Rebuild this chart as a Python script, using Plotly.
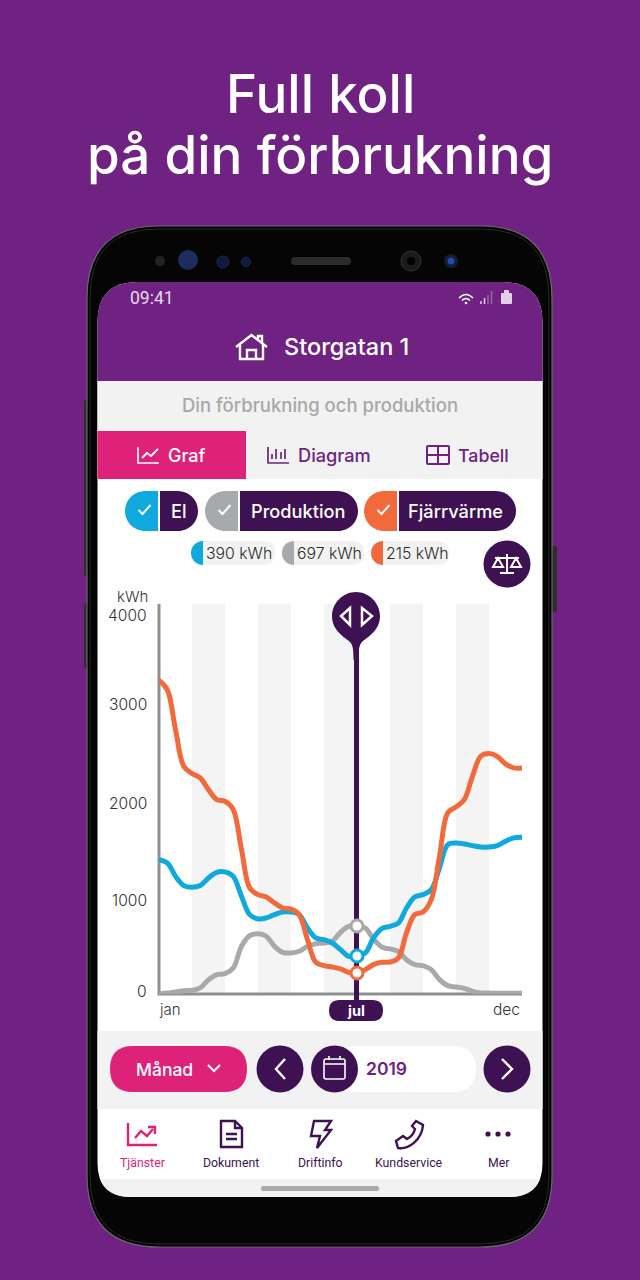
import plotly.graph_objects as go

# ---------- chart data (kWh, quarter-month steps) ----------
positions = [i / 4 for i in range(45)]
fjarrvarme = [3215, 3122, 2712, 2336, 2261, 2216, 2096, 1994, 1977, 1891, 1481, 1088, 1019, 995, 934, 882, 872, 814, 557, 325, 291, 277, 257, 222, 215, 250, 301, 325, 328, 369, 626, 814, 841, 968, 1412, 1857, 1919, 1994, 2233, 2438, 2466, 2438, 2360, 2319, 2319]
el = [1378, 1344, 1207, 1112, 1094, 1112, 1190, 1248, 1252, 1207, 1002, 814, 770, 780, 814, 841, 841, 814, 677, 575, 557, 523, 455, 386, 390, 421, 575, 670, 694, 728, 882, 995, 1019, 1070, 1293, 1532, 1549, 1539, 1522, 1508, 1508, 1522, 1566, 1601, 1607]
produktion = [3, 10, 21, 34, 38, 62, 147, 198, 209, 267, 489, 598, 619, 592, 489, 427, 421, 438, 489, 516, 523, 540, 633, 694, 697, 677, 564, 482, 462, 438, 352, 301, 291, 250, 147, 86, 72, 58, 27, 10, 10, 7, 7, 7, 7]
y_ticks = [0, 1000, 2000, 3000, 4000]
y_shift = [3, -4, -4, -3, -11]
band_starts = [1, 3, 5, 7, 9]
selected = 6
selected_values = [390, 697, 215]

PURPLE = "#6F2281"; DARK = "#3D1152"; PINK = "#DE2279"; BLUE = "#0FA9DE"
ORANGE = "#F26A3B"; GRAY = "#A8A9AB"; LIGHT = "#F2F2F2"; TXT = "#222222"; AXIS = "#8F8F8F"
FONT = "Inter"

# chart frame on the page
CX0, CX1, CY0, CY1 = 159, 522, 994, 604
XMAX, YMAX = 11, 4000
def sx(v): return CX0 + (CX1 - CX0) * v / XMAX
def sy(v): return CY0 + (CY1 - CY0) * v / YMAX

shapes, notes = [], []

def P(d, fill="rgba(0,0,0,0)", lc=None, lw=0):
    shapes.append(dict(type="path", path=d, xref="x", yref="y", layer="below", fillcolor=fill,
                       line=dict(color=lc or "rgba(0,0,0,0)", width=lw)))

def rr(x0, y0, x1, y1, r=0, r2=None):
    r2 = r if r2 is None else r2
    return (f"M{x0+r},{y0} L{x1-r},{y0} Q{x1},{y0} {x1},{y0+r} L{x1},{y1-r2} Q{x1},{y1} {x1-r2},{y1} "
            f"L{x0+r2},{y1} Q{x0},{y1} {x0},{y1-r2} L{x0},{y0+r} Q{x0},{y0} {x0+r},{y0} Z")

def lpill(x0, y0, x1, y1):
    r = (y1 - y0) / 2
    return f"M{x1},{y0} L{x0+r},{y0} C{x0+r*.45},{y0} {x0},{y0+r*.45} {x0},{y0+r} C{x0},{y1-r*.45} {x0+r*.45},{y1} {x0+r},{y1} L{x1},{y1} Z"

def rpill(x0, y0, x1, y1):
    r = (y1 - y0) / 2
    return f"M{x0},{y0} L{x1-r},{y0} C{x1-r*.45},{y0} {x1},{y0+r*.45} {x1},{y0+r} C{x1},{y1-r*.45} {x1-r*.45},{y1} {x1-r},{y1} L{x0},{y1} Z"

def C(cx, cy, r, fill, lc=None, lw=0):
    shapes.append(dict(type="circle", xref="x", yref="y", layer="below", x0=cx-r, x1=cx+r, y0=cy-r, y1=cy+r,
                       fillcolor=fill, line=dict(color=lc or "rgba(0,0,0,0)", width=lw)))

def T(x, y, s, size, color=TXT, anchor="center", weight=400, font=FONT):
    notes.append(dict(x=x, y=y, xref="x", yref="y", text=s, showarrow=False, xanchor=anchor, yanchor="middle",
                      font=dict(family=font, size=size, color=color, weight=weight), borderpad=0))

def check(x, y, c="#FFFFFF"):
    P(f"M{x-6},{y} L{x-2},{y+4} L{x+6},{y-5}", lc=c, lw=2)

# ---------- phone ----------
P(rr(84, 400, 90, 576, 2), fill="#2E2E2E")
P(rr(84, 603, 90, 668, 2), fill="#2E2E2E")
P(rr(550, 546, 557, 612, 2), fill="#2E2E2E")
P(rr(87, 226, 552, 1247, 72), fill="#000000", lc="#6A6A6A", lw=1.2)
P(rr(90, 229, 549, 1244, 68), fill="#050505", lc="#2A2A2A", lw=1)
C(160, 261, 5, "#222222"); C(188, 260, 10, "#1D2C5C"); C(223, 262, 6, "#0E1A3C", "#1B2A55", 1)
C(246, 262, 4.5, "#0E1A3C", "#1B2A55", 1)
P(rr(291, 257, 351, 265, 4), fill="#2B2B2B")
C(411, 261, 10, "#1A1A1A", "#333333", 1); C(411, 261, 4, "#000000"); C(451, 261, 7, "#141B33"); C(451, 261, 3.5, "#1D4FA8")

# screen
P(rr(97.5, 282, 542.5, 1197, 40, 34), fill="#FFFFFF")
P("M97.5,381 L97.5,322 Q97.5,282 137.5,282 L502.5,282 Q542.5,282 542.5,322 L542.5,381 Z", fill=PURPLE)
P("M97.5,381 H542.5 V479 H97.5 Z", fill=LIGHT)
P("M97.5,431 H246 V479 H97.5 Z", fill=PINK)
P("M97.5,1031 H542.5 V1109 H97.5 Z", fill=LIGHT)
P("M100,1179 H540 Q533.2,1197 508.5,1197 H131.5 Q106.8,1197 100,1179 Z", fill=LIGHT)
P(rr(261, 1186, 379, 1191, 2.5), fill="#A9A9A9")

# title
T(320, 94, "Full koll", 53, "#FFFFFF", weight=500)
T(320, 155, "på din förbrukning", 53, "#FFFFFF", weight=500)

# status bar
T(129, 298, "09:41", 17.5, "#E9D9EE", "left", font="Roboto")
P("M459,298 Q466,291 473,298", lc="#FFFFFF", lw=1.6); P("M462,300.5 Q466,296.5 470,300.5", lc="#FFFFFF", lw=1.6)
C(466, 303, 1.3, "#FFFFFF")
for i, h in enumerate([3, 6, 9, 13]):
    P(f"M{481+i*3.5},{304} V{304-h}", lc="#E9D9EE" if i < 2 else "#9B6BA8", lw=1.4)
P(rr(501, 293, 512, 304, 1), fill="#E3CFE8"); P(rr(504, 290, 509, 294, .5), fill="#E3CFE8")

# header
P("M236,347 L251.5,335 L267,347 M240,344 V359 H263 V344 M247,359 V350 H256 V359 M258,339 V336 H262 V343", lc="#FFFFFF", lw=2.4)
T(283, 346.5, "Storgatan 1", 23.5, "#FFFFFF", "left", weight=500)
T(320, 405, "Din förbrukning och produktion", 18.5, "#A8A8A8", weight=500)

# tabs
P("M138,447 V463 H159", lc="#FFFFFF", lw=1.6); P("M142,458 L147,453 L151,456 L158,449", lc="#FFFFFF", lw=1.8)
T(167, 455, "Graf", 18, "#FFFFFF", "left", weight=500)
P("M268,447 V463 H289 M272,459 V454 M276,459 V449 M281,459 V452 M285,459 V449", lc=PURPLE, lw=1.7)
T(297, 455, "Diagram", 18.2, PURPLE, "left", weight=500)
P(rr(427, 446, 449, 464, 1), lc=PURPLE, lw=2); P("M438,446 V464 M427,455 H449", lc=PURPLE, lw=2)
T(457, 455, "Tabell", 17.8, PURPLE, "left", weight=500)

# toggles
for x0, sp, x1, col, label, dx in [(125, 158, 198, BLUE, "El", 0), (205, 238, 358, GRAY, "Produktion", -1), (364, 397, 516, ORANGE, "Fjärrvärme", -2)]:
    P(rpill(sp + 2, 491, x1, 531), fill=DARK)
    P(lpill(x0, 491, sp, 531), fill=col)
    check((x0 + sp) / 2 + 3, 510)
    T((sp + x1) / 2 + 1 + dx, 511, label, 18.2, "#FFFFFF", weight=500)

# value pills
for (x0, sp, x1, col), v in zip([(191, 203, 275, BLUE), (282, 294, 364, GRAY), (371, 383, 449, ORANGE)], selected_values):
    P(rr(x0, 541, x1, 565, 12), fill=LIGHT)
    P(lpill(x0, 541, sp, 565), fill=col)
    T(sp + 2, 553, f"{v} kWh", 15.8, "#2A2A2A", "left", weight=300)

# scale button
C(507, 564, 23.5, DARK)
P("M507,554 V572 M500,573 H514 M495,558 H519 M498,558 L493,567 H503 Z M516,558 L511,567 H521 Z", lc="#FFFFFF", lw=2)

# chart background: month bands, axis lines, selection line
for b in band_starts:
    P(f"M{sx(b)},{sy(0)} H{sx(b+1)} V{sy(YMAX)} H{sx(b)} Z", fill="#F4F4F4")
P(f"M{sx(0)},{sy(YMAX)} V{sy(0)} H{sx(XMAX)}", lc=AXIS, lw=3)
P(f"M{sx(selected)-0.5},650 V1002", lc=DARK, lw=5)

# pin
P("M356,592 C369,592 380,603 380,616 C380,630 369,636 362,642 C359,645 358.5,650 358.5,660 H353.5 C353.5,650 353,645 350,642 C343,636 332,630 332,616 C332,603 343,592 356,592 Z", fill=DARK)
P("M350,608 L341,616 L350,625 Z M362,608 L372,616 L362,625 Z", lc="#FFFFFF", lw=2.5)

# selection label and axis texts
P(rr(329, 1000, 383, 1021, 10.5), fill=DARK)
T(356, 1010, "jul", 14.5, "#FFFFFF", weight=700)
T(158, 1009, "jan", 15, "#333333", "left", weight=300)
T(521, 1009, "dec", 15.5, "#333333", "right", weight=300)
T(149, 596.5, "kWh", 15, "#333333", "right", weight=300)

# controls
P(rr(110, 1046, 247, 1092, 23), fill=PINK)
T(135, 1069, "Månad", 17.5, "#FFFFFF", "left", weight=500)
P("M208,1065 L214,1071 L220,1065", lc="#FFFFFF", lw=2)
C(280, 1069, 23.5, DARK); P("M285,1059 L276,1069 L285,1079", lc="#FFFFFF", lw=2.4)
P(rr(334, 1046, 476, 1092, 23), fill="#FFFFFF")
C(334.5, 1069, 23.5, DARK)
P(rr(324, 1059, 345, 1079, 2), lc="#FFFFFF", lw=1.6); P("M324,1064 H345 M329,1056 V1060 M340,1056 V1060", lc="#FFFFFF", lw=1.6)
T(365, 1068, "2019", 17.5, PURPLE, "left", weight=600)
C(507, 1069, 23.5, DARK); P("M502,1059 L512,1069 L502,1079", lc="#FFFFFF", lw=2.4)

# nav
P("M128,1123 V1145 H157", lc=PINK, lw=2.4); P("M135,1138 L141,1131 L147,1136 L153,1129 M148,1127 H155 V1134", lc=PINK, lw=2.4)
P("M221,1121 H235 L242,1128 V1147 H221 Z M235,1121 V1128 H242 M226,1134 H237 M226,1139 H237", lc=DARK, lw=2.4)
P("M314,1121 H331 L325,1130 H331 L317,1148 L320,1136 H311 Z", lc=DARK, lw=2.4)
P("M416,1121 L423,1125 C422,1140 408,1150 398,1148 L396,1141 L403,1136 L407,1139 C411,1137 414,1133 415,1129 L412,1126 Z", lc=DARK, lw=2.4)
for cx in [488, 498, 508]:
    C(cx, 1134, 2.6, DARK)
for x, s, c in [(142, "Tjänster", PINK), (231, "Dokument", DARK), (320, "Driftinfo", DARK), (409, "Kundservice", DARK), (498, "Mer", DARK)]:
    T(x, 1162.5, s, 12.3, c, font="Roboto")

# ---------- chart ----------
for t, s in zip(y_ticks, y_shift):
    notes.append(dict(x=0, y=t, xref="x2", yref="y2", xanchor="right", xshift=-10, yshift=s, yanchor="middle",
                      text=str(t), showarrow=False, font=dict(family=FONT, size=15.6, color="#333333", weight=300)))

fig = go.Figure()
fig.add_trace(go.Scatter(x=[0], y=[0], xaxis="x", yaxis="y", mode="markers", opacity=0, showlegend=False, hoverinfo="skip"))
for name, vals, col in [("Produktion", produktion, GRAY), ("El", el, BLUE), ("Fjärrvärme", fjarrvarme, ORANGE)]:
    fig.add_trace(go.Scatter(x=positions, y=vals, name=name, xaxis="x2", yaxis="y2", mode="lines", cliponaxis=False,
                             line=dict(color=col, width=5, shape="spline", smoothing=1.0), showlegend=False))
for name, v, col in [("El", selected_values[0], BLUE), ("Produktion", selected_values[1], GRAY), ("Fjärrvärme", selected_values[2], ORANGE)]:
    fig.add_trace(go.Scatter(x=[selected], y=[v], name=name, xaxis="x2", yaxis="y2", mode="markers", cliponaxis=False,
                             marker=dict(size=12, color="#FFFFFF", line=dict(color=col, width=3)), showlegend=False))

W, H = 640, 1280
fig.update_layout(
    width=W, height=H, margin=dict(l=0, r=0, t=0, b=0), paper_bgcolor=PURPLE, plot_bgcolor="rgba(0,0,0,0)",
    showlegend=False, shapes=shapes, annotations=notes,
    xaxis=dict(range=[0, W], domain=[0, 1], visible=False, fixedrange=True),
    yaxis=dict(range=[H, 0], domain=[0, 1], visible=False, fixedrange=True),
    xaxis2=dict(range=[0, XMAX], domain=[CX0 / W, CX1 / W], anchor="y2", showgrid=False, zeroline=False, showline=False,
                ticks="", showticklabels=False, fixedrange=True),
    yaxis2=dict(range=[0, YMAX], domain=[(H - CY0) / H, (H - CY1) / H], anchor="x2", showgrid=False, zeroline=False,
                showline=False, ticks="", showticklabels=False, fixedrange=True),
)
fig.write_html("out.html", config={"displayModeBar": False},
               post_script="document.body.style.margin='0';document.documentElement.style.overflow='hidden';")
